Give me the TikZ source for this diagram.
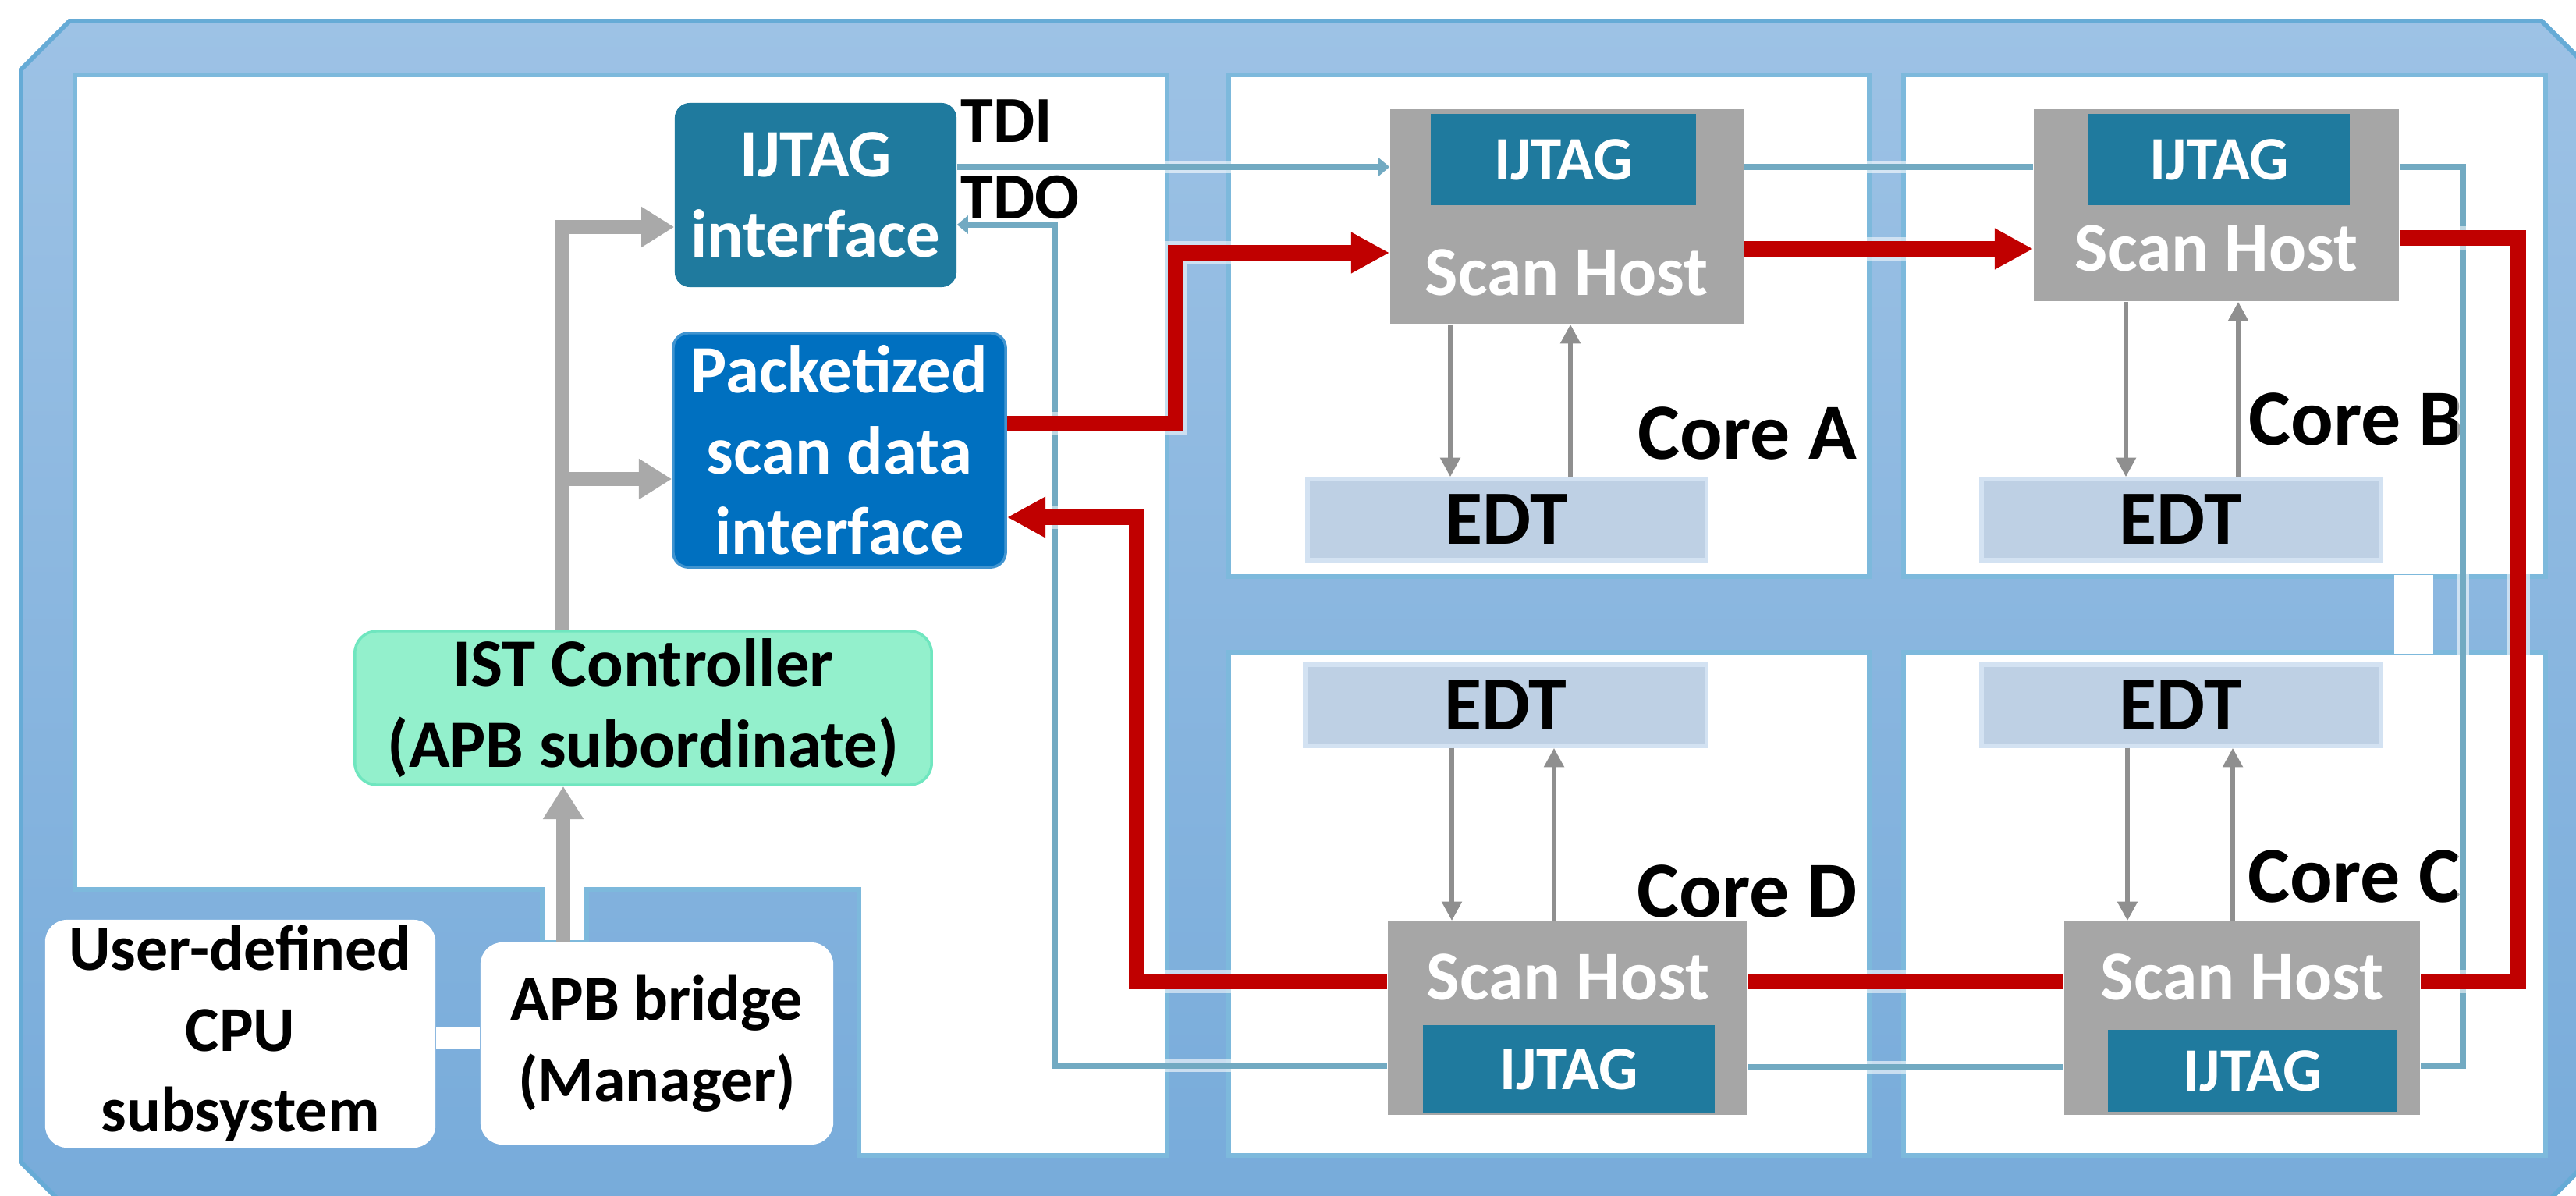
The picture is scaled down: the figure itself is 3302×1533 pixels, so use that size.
\documentclass[tikz,border=0pt]{standalone}
\usepackage{fontspec}
\setmainfont{Carlito}
\usetikzlibrary{arrows.meta}
\definecolor{framec}{HTML}{9DC2E5}
\definecolor{frameb}{HTML}{77ABDA}
\definecolor{frameline}{HTML}{66ABD6}
\definecolor{panelline}{HTML}{7DB9DC}
\definecolor{ijc}{HTML}{1F7A9E}
\definecolor{pkc}{HTML}{0070C0}
\definecolor{istc}{HTML}{93F0CC}
\definecolor{istl}{HTML}{6FE6BF}
\definecolor{shc}{HTML}{A6A6A6}
\definecolor{edtc}{HTML}{BED0E4}
\definecolor{edtl}{HTML}{D3E2F2}
\definecolor{redc}{HTML}{C00000}
\definecolor{tdic}{HTML}{72AAC2}
\definecolor{gmc}{HTML}{A9A9A9}
\definecolor{gcc}{HTML}{8F8F8F}
\newcommand\fMain{\fontsize{24.7}{29.4}\selectfont\bfseries}
\begin{document}
\begin{tikzpicture}[x=0.01cm,y=-0.01cm,
  panel/.style={fill=white,draw=panelline,line width=1.6pt},
  boxbase/.style={inner sep=0pt,align=center,font=\fMain},
  ijif/.style={boxbase,fill=ijc,text=white,rounded corners=5.5pt},
  pk/.style={boxbase,fill=pkc,draw=pkc!75!white,line width=1pt,text=white,rounded corners=5.5pt},
  istbox/.style={boxbase,fill=istc,draw=istl,line width=1pt,text=black,rounded corners=8pt},
  wbox/.style={boxbase,fill=white,text=black,rounded corners=8pt,font=\fontsize{23.3}{29.4}\selectfont\bfseries},
  shost/.style={inner sep=0pt,fill=shc},
  ijin/.style={inner sep=0pt,fill=ijc,text=white,font=\fontsize{22.5}{27}\selectfont\bfseries},
  shtxt/.style={inner sep=0pt,text=white,font=\fontsize{25.5}{30}\selectfont\bfseries},
  edtbox/.style={inner sep=0pt,fill=edtc,draw=edtl,line width=1.5pt,minimum height=1.04cm,font=\fontsize{28}{33}\selectfont\bfseries},
  corelbl/.style={inner sep=0pt,font=\fontsize{29}{34}\selectfont\bfseries},
  sig/.style={inner sep=0pt,font=\fontsize{24}{29}\selectfont\bfseries},
  redline/.style={draw=redc,line width=5.6pt,preaction={draw=white,opacity=.55,line width=8.5pt,-}},
  redarr/.style={redline,-{Triangle[length=14pt,width=14pt]}},
  tdiline/.style={draw=tdic,line width=2.2pt,preaction={draw=white,opacity=.6,line width=4.6pt,-}},
  tdiarr/.style={tdiline,-{Triangle[length=4pt,width=6.5pt]}},
  gmain/.style={draw=gmc,line width=5pt,-{Triangle[length=12pt,width=14pt]}},
  gcore/.style={draw=gcc,line width=1.8pt,-{Triangle[length=7pt,width=7pt]}},
  link/.style={draw=white,line width=8pt}
]
\useasboundingbox (0,0) rectangle (3302,1533);
\clip (0,0) rectangle (3302,1533);
% outer frame
\shadedraw[top color=framec,bottom color=frameb,draw=frameline,line width=1.7pt]
  (27,89) -- (89,27) -- (3258,27) -- (3340,109) -- (3340,1466) -- (3246,1560) -- (97,1560) -- (27,1490) -- cycle;
% white panels
\draw[panel] (96,96) -- (1496,96) -- (1496,1481) -- (1101,1481) -- (1101,1140) -- (752,1140)
  -- (752,1208) -- (695,1208) -- (695,1140) -- (96,1140) -- cycle;
\draw[panel] (1575,96) rectangle (2396,739);
\draw[panel] (2440,96) rectangle (3263,739);
\draw[panel] (1575,836) rectangle (2396,1481);
\draw[panel] (2440,836) rectangle (3263,1481);
\fill[white] (3069,737) rectangle (3119,838);

% left side blocks
\node[ijif,minimum width=3.61cm,minimum height=2.36cm] (ijtagif) at (1045.5,250) {IJTAG\\interface};
\node[pk,minimum width=4.26cm,minimum height=3.00cm] (packet) at (1076,577) {Packetized\\scan data\\interface};
\node[istbox,minimum width=7.39cm,minimum height=1.97cm] (ist) at (824.5,907.5) {IST Controller\\(APB subordinate)};
\node[wbox,minimum width=5.00cm,minimum height=2.92cm] (cpu) at (308,1325) {User-defined\\CPU\\subsystem};
\node[wbox,minimum width=4.52cm,minimum height=2.59cm] (apb) at (842,1337.5) {APB bridge\\(Manager)};
\node[sig,anchor=west] (tdi) at (1231,155) {TDI};
\node[sig,anchor=west] (tdo) at (1231,253) {TDO};

% cores: scan hosts
\node[shost,minimum width=4.53cm,minimum height=2.75cm] (shA) at (2008.5,277.5) {};
\node[ijin,minimum width=3.40cm,minimum height=1.17cm] (ijA) at (2004,204.5) {IJTAG};
\node[shtxt] (stA) at (2008,349) {Scan Host};
\node[shost,minimum width=4.68cm,minimum height=2.46cm] (shB) at (2841,263) {};
\node[ijin,minimum width=3.35cm,minimum height=1.17cm] (ijB) at (2844.5,204.5) {IJTAG};
\node[shtxt] (stB) at (2841,318) {Scan Host};
\node[shost,minimum width=4.61cm,minimum height=2.48cm] (shD) at (2009.5,1305) {};
\node[ijin,minimum width=3.74cm,minimum height=1.13cm] (ijD) at (2011,1370.5) {IJTAG};
\node[shtxt] (stD) at (2010,1252) {Scan Host};
\node[shost,minimum width=4.56cm,minimum height=2.48cm] (shC) at (2874,1305) {};
\node[ijin,minimum width=3.71cm,minimum height=1.05cm] (ijC) at (2887.5,1372.5) {IJTAG};
\node[shtxt] (stC) at (2874,1252) {Scan Host};

% EDT blocks
\node[edtbox,minimum width=5.11cm] (edtA) at (1931.5,666) {EDT};
\node[edtbox,minimum width=5.11cm] (edtB) at (2795.5,666) {EDT};
\node[edtbox,minimum width=5.14cm] (edtD) at (1930,904) {EDT};
\node[edtbox,minimum width=5.11cm] (edtC) at (2795.5,904) {EDT};

% core labels
\node[corelbl] (coreA) at (2240,555) {Core A};
\node[corelbl] (coreB) at (3020,537) {Core B};
\node[corelbl] (coreD) at (2240,1142) {Core D};
\node[corelbl] (coreC) at (3018,1123) {Core C};

% IJTAG chain (TDI/TDO)
\draw[tdiarr] (ijtagif.east |- 0,214) -- (shA.west |- 0,214);
\draw[tdiline] (shA.east |- 0,214) -- (shB.west |- 0,214);
\draw[tdiline] (shB.east |- 0,214) -- (3157,214) -- (3157,1366) -- (shC.east |- 0,1366);
\draw[tdiline] (shC.west |- 0,1368) -- (shD.east |- 0,1368);
\draw[tdiarr] (shD.west |- 0,1366) -- (1352,1366) -- (1352,288) -- (ijtagif.east |- 0,288);

% packetized scan data path
\draw[redarr] (packet.east |- 0,543) -- (1507,543) -- (1507,324) -- (shA.west |- 0,324);
\draw[redarr] (shA.east |- 0,319) -- (shB.west |- 0,319);
\draw[redline] (shB.east |- 0,305) -- (3228,305) -- (3228,1258) -- (shC.east |- 0,1258);
\draw[redline] (shC.west |- 0,1258) -- (shD.east |- 0,1258);
\draw[redarr] (shD.west |- 0,1258) -- (1457,1258) -- (1457,663) -- (packet.east |- 0,663);

% controller connections
\coordinate (gtop) at (721,291);
\coordinate (gbr) at (721,614);
\draw[gmain] (ist.north -| gtop) -- (gtop) -- (ijtagif.west |- gtop);
\draw[gmain] (gbr) -- (packet.west |- gbr);
\draw[gmain] (apb.north -| 722,0) -- (ist.south -| 722,0);
\draw[link] (cpu.east |- 0,1330) -- (apb.west |- 0,1330);

% scan host <-> EDT
\draw[gcore] (shA.south -| 1859,0) -- (edtA.north -| 1859,0);
\draw[gcore] (edtA.north -| 2013,0) -- (shA.south -| 2013,0);
\draw[gcore] (shB.south -| 2725,0) -- (edtB.north -| 2725,0);
\draw[gcore] (edtB.north -| 2869,0) -- (shB.south -| 2869,0);
\draw[gcore] (edtD.south -| 1861,0) -- (shD.north -| 1861,0);
\draw[gcore] (shD.north -| 1992,0) -- (edtD.south -| 1992,0);
\draw[gcore] (edtC.south -| 2727,0) -- (shC.north -| 2727,0);
\draw[gcore] (shC.north -| 2862,0) -- (edtC.south -| 2862,0);
\end{tikzpicture}
\end{document}
